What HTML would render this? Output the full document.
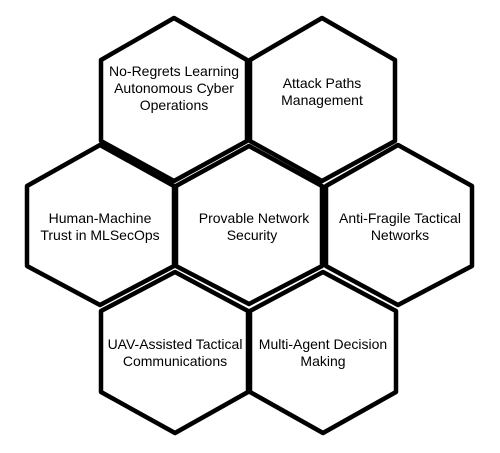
<!DOCTYPE html>
<html><head><meta charset="utf-8"><style>
html,body{margin:0;padding:0;background:#fff;}
svg{display:block}
text{font-family:"Liberation Sans",Arial,sans-serif;font-size:14px;fill:#000;text-anchor:middle;dominant-baseline:central}
</style></head><body>
<svg width="500" height="453" viewBox="0 0 500 453" xmlns="http://www.w3.org/2000/svg">
<g fill="#fff" stroke="#000" stroke-width="4.5" stroke-linejoin="round">
<polygon points="174,18 247,60 247,141 174,181 101,141 101,60"/>
<polygon points="322,18 395,60 395,141 322,181 250,141 250,60"/>
<polygon points="100,145 174,186 174,266 100,305 27,266 27,186"/>
<polygon points="398,145 472,186 472,266 398,305 326,266 326,186"/>
<polygon points="175,272 248,311 248,392 175,433 101,392 101,311"/>
<polygon points="323,272 396,311 396,392 323,433 250,392 250,311"/>
<polygon points="249,146 322,186 322,266 249,304 176,266 176,186"/>
</g>
<text x="174" y="71">No-Regrets Learning</text>
<text x="174" y="88">Autonomous Cyber</text>
<text x="174" y="105">Operations</text>
<text x="322" y="83">Attack Paths</text>
<text x="322" y="100">Management</text>
<text x="100" y="218">Human-Machine</text>
<text x="100" y="235">Trust in MLSecOps</text>
<text x="254" y="218">Provable Network</text>
<text x="252" y="235">Security</text>
<text x="400" y="218">Anti-Fragile Tactical</text>
<text x="400" y="235">Networks</text>
<text x="175" y="344">UAV-Assisted Tactical</text>
<text x="175" y="361">Communications</text>
<text x="323" y="344">Multi-Agent Decision</text>
<text x="323" y="361">Making</text>
</svg>
</body></html>
